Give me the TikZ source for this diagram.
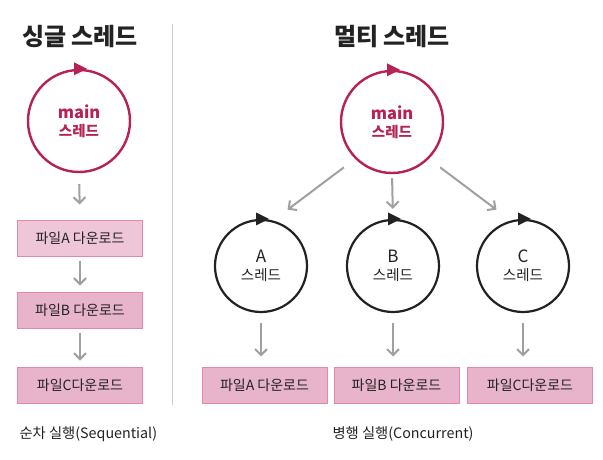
\documentclass[tikz,border=0pt]{standalone}
\usepackage{fontspec}
\setmainfont{Noto Sans CJK KR}
\usetikzlibrary{arrows.meta}
\definecolor{crim}{HTML}{B52253}
\definecolor{ink}{HTML}{222222}
\definecolor{boxfill}{HTML}{E7B4CB}
\definecolor{boxfirst}{HTML}{EFC6D8}
\definecolor{boxline}{HTML}{E487AB}
\definecolor{arrgray}{HTML}{A0A0A0}
\definecolor{divgray}{HTML}{CCCCCC}
\begin{document}
\begin{tikzpicture}[x=1pt,y=-1pt,
	mainthr/.style={circle,draw=crim,line width=2.4pt,minimum size=102pt,inner sep=0pt,
		text=crim,font=\fontsize{14.5}{18}\selectfont\bfseries,align=center},
	subthr/.style={circle,draw=ink,line width=2.2pt,minimum size=92pt,inner sep=0pt,
		text=ink,font=\fontsize{14.5}{18}\selectfont,align=center},
	dlbox/.style={draw=boxline,fill=boxfill,line width=1pt,minimum width=125pt,
		minimum height=36pt,inner sep=0pt,text=ink,font=\fontsize{14}{16}\selectfont},
	flow/.style={draw=arrgray,line width=2pt,-{Straight Barb[length=6pt,width=12pt]}},
	title/.style={text=ink,font=\fontsize{24}{28}\selectfont\bfseries},
	caption/.style={text=ink,font=\fontsize{14.3}{16}\selectfont}]
	\newcommand{\spin}[2]{\fill[#2] ([shift={(-5,-6.5)}]#1.north) -- ([xshift=8]#1.north)
		-- ([shift={(-5,6.5)}]#1.north) -- cycle;}
	\useasboundingbox (0,0) rectangle (603,460);
	%titles
	\node [title] (ttlL) at (80,37) {싱글 스레드};
	\node [title] (ttlR) at (392,37) {멀티 스레드};
	%divider
	\draw [divgray, line width=1pt] (172,24) -- (172,405);
	%single thread
	\node [mainthr] (mainL) at (79,121) {{\fontsize{16.5}{18}\selectfont main}\\스레드};
	\spin{mainL}{crim}
	\node [dlbox, fill=boxfirst] (dlA) at (80,238) {파일A 다운로드};
	\node [dlbox] (dlB) at (80,310) {파일B 다운로드};
	\node [dlbox] (dlC) at (80,385) {파일C다운로드};
	\draw [flow, shorten <=11pt, shorten >=15pt] (mainL.south) -- (dlA.north);
	\draw [flow, shorten <=4pt, shorten >=6pt] (dlA.south) -- (dlB.north);
	\draw [flow, shorten <=4pt, shorten >=6pt] (dlB.south) -- (dlC.north);
	\node [caption, anchor=west] (seqcap) at (16,434) {순차 실행(Sequential)};
	%multi thread
	\node [mainthr] (mainR) at (392,122) {{\fontsize{16.5}{18}\selectfont main}\\스레드};
	\spin{mainR}{crim}
	\foreach \nm/\xx in {A/261,B/393,C/523}{
		\node [subthr] (sub\nm) at (\xx,266) {{\fontsize{17}{19}\selectfont \nm}\\스레드};
		\spin{sub\nm}{ink}
	}
	\node [dlbox] (parA) at (264.5,385) {파일A 다운로드};
	\node [dlbox] (parB) at (396.5,385) {파일B 다운로드};
	\node [dlbox] (parC) at (530,385) {파일C다운로드};
	\draw [flow, shorten <=14pt, shorten >=18pt] (mainR.-135) -- (subA.75);
	\draw [flow, shorten <=4pt, shorten >=10pt] (mainR.south) -- (subB.north);
	\draw [flow, shorten <=14pt, shorten >=18pt] (mainR.-45) -- (subC.105);
	\draw [flow, shorten <=10pt, shorten >=10pt] (subA.south) -- (subA.south |- parA.north);
	\draw [flow, shorten <=10pt, shorten >=10pt] (subB.south) -- (subB.south |- parB.north);
	\draw [flow, shorten <=10pt, shorten >=10pt] (subC.south) -- (subC.south |- parC.north);
	\node [caption] (parcap) at (403,434) {병행 실행(Concurrent)};
\end{tikzpicture}
\end{document}
